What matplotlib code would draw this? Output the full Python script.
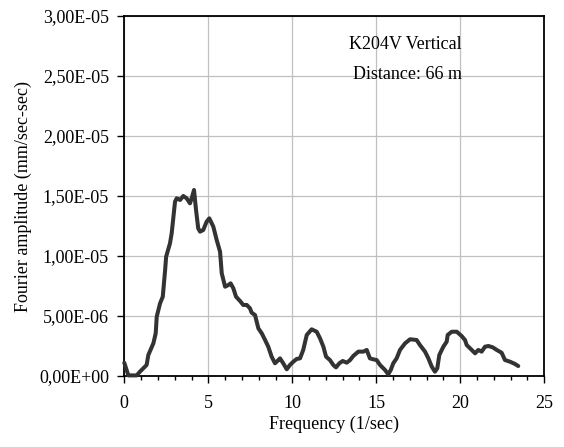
import matplotlib
matplotlib.use("Agg")
import matplotlib.pyplot as plt
from matplotlib.ticker import MultipleLocator, FuncFormatter

freq = [0.0, 0.24, 0.74, 0.93, 1.33, 1.43, 1.73, 1.87, 1.93, 2.13, 2.29, 2.43, 2.49,
        2.72, 2.82, 3.02, 3.12, 3.32, 3.51, 3.71, 3.91, 4.01, 4.15, 4.27, 4.40, 4.51,
        4.70, 4.90, 5.06, 5.30, 5.50, 5.70, 5.80, 6.00, 6.19, 6.33, 6.49, 6.65, 6.89,
        7.08, 7.29, 7.48, 7.58, 7.78, 7.98, 8.18, 8.38, 8.57, 8.77, 8.97, 9.17, 9.27,
        9.46, 9.67, 9.86, 10.06, 10.26, 10.46, 10.65, 10.86, 11.15, 11.45, 11.65, 11.85,
        12.01, 12.24, 12.44, 12.60, 12.80, 13.00, 13.24, 13.44, 13.63, 13.93, 14.23,
        14.43, 14.62, 14.82, 15.02, 15.22, 15.52, 15.71, 15.86, 16.01, 16.21, 16.41,
        16.71, 17.01, 17.40, 17.60, 17.90, 18.10, 18.30, 18.49, 18.63, 18.75, 18.99,
        19.19, 19.25, 19.49, 19.79, 20.08, 20.28, 20.38, 20.68, 20.88, 21.07, 21.27,
        21.47, 21.67, 21.93, 22.17, 22.46, 22.66, 22.96, 23.26, 23.45]
amp_e6 = [1.1, 0.05, 0.05, 0.36, 0.92, 1.75, 2.72, 3.56, 4.94, 6.06, 6.61, 8.83, 9.94,
          11.06, 11.89, 14.53, 14.81, 14.67, 15.0, 14.81, 14.39, 14.81, 15.5, 13.83,
          12.3, 12.03, 12.17, 12.86, 13.14, 12.44, 11.33, 10.36, 8.56, 7.44, 7.58, 7.72,
          7.31, 6.61, 6.25, 5.92, 5.92, 5.64, 5.28, 5.08, 3.97, 3.56, 3.0, 2.44, 1.61,
          1.06, 1.33, 1.47, 1.06, 0.56, 0.92, 1.19, 1.42, 1.47, 2.17, 3.42, 3.89, 3.69,
          3.14, 2.44, 1.61, 1.33, 0.92, 0.72, 1.06, 1.25, 1.11, 1.33, 1.67, 2.03, 2.03,
          2.17, 1.47, 1.39, 1.33, 0.92, 0.5, 0.14, 0.5, 1.06, 1.47, 2.17, 2.72, 3.06,
          3.0, 2.58, 2.03, 1.47, 0.78, 0.36, 0.64, 1.75, 2.44, 2.86, 3.42, 3.69, 3.69,
          3.33, 3.0, 2.58, 2.17, 1.89, 2.17, 2.03, 2.44, 2.5, 2.39, 2.17, 1.94, 1.33,
          1.19, 1.0, 0.83]
amp = [v * 1e-6 for v in amp_e6]

plt.rcParams['font.family'] = ['Liberation Serif', 'DejaVu Serif']

fig = plt.figure(figsize=(5.64, 4.47), dpi=100)
ax = fig.add_axes([124.3 / 564, 1 - 376 / 447, 420 / 564, 360 / 447])

ax.plot(freq, amp, color='#333333', lw=2.9, solid_joinstyle='round',
        solid_capstyle='round', zorder=3, clip_on=False)

ax.set_xlim(0, 25)
ax.set_ylim(0, 3e-5)
ax.xaxis.set_major_locator(MultipleLocator(5))
ax.xaxis.set_minor_locator(MultipleLocator(1))
ax.yaxis.set_major_locator(MultipleLocator(5e-6))

def yfmt(v, pos):
    s = "%.2E" % v
    return s.replace('.', ',')

ax.yaxis.set_major_formatter(FuncFormatter(yfmt))
ax.grid(True, which='major', color='#c0c0c0', lw=0.9)
ax.set_axisbelow(True)

for sp in ax.spines.values():
    sp.set_linewidth(1.3)
    sp.set_color('black')

ax.tick_params(axis='both', which='major', direction='out', length=5, width=1,
               labelsize=13, pad=6)
ax.tick_params(axis='x', which='major', pad=9)
ax.tick_params(axis='x', which='minor', direction='out', length=3, width=1)
ax.tick_params(axis='y', which='minor', left=False)

ax.set_xlabel('Frequency (1/sec)', fontsize=13, labelpad=2)
ax.set_ylabel('Fourier amplitude (mm/sec-sec)', fontsize=13, labelpad=5)

ax.text(0.802, 0.92, 'K204V Vertical', transform=ax.transAxes, ha='right',
        va='center', fontsize=13)
ax.text(0.805, 0.837, 'Distance: 66 m', transform=ax.transAxes, ha='right',
        va='center', fontsize=13)

fig.savefig('out.png', dpi=100)
